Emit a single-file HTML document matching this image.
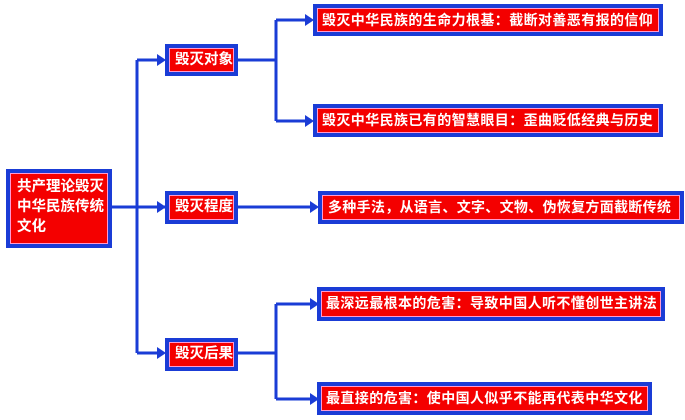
<!DOCTYPE html>
<html><head><meta charset="utf-8"><style>
html,body{margin:0;padding:0;background:#fff;width:685px;height:420px;overflow:hidden;position:relative}
.b{position:absolute;box-sizing:border-box;background:#1a3cd6;padding:4px}
.b div{box-sizing:border-box;width:100%;height:100%;background:#f40000;border:1px solid #ff9ad0;color:#fff;font-family:"Liberation Sans","Noto Sans CJK SC","WenQuanYi Zen Hei",sans-serif;font-weight:bold;font-size:14px;line-height:22px;white-space:nowrap;padding-left:4px;letter-spacing:0.4px;overflow:hidden}
svg{position:absolute;left:0;top:0}
</style></head><body>
<svg width="685" height="420">
<g stroke="#1a3cd6" stroke-width="3" fill="none">
<path d="M111 207H165"/>
<path d="M137 60V353"/>
<path d="M137 60H160M137 207H160M137 353H160"/>
<path d="M238 60H276M276 20V121M276 20H308M276 121H308"/>
<path d="M238 207H312"/>
<path d="M238 353H276M276 304V399M276 304H312M276 399H312"/>
</g>
<g fill="#1a3cd6">
<path d="M166 60l-9-6v12z"/><path d="M166 207l-9-6v12z"/><path d="M166 353l-9-6v12z"/>
<path d="M314 20l-9-6v12z"/><path d="M314 121l-9-6v12z"/>
<path d="M319 207l-9-6v12z"/>
<path d="M319 304l-9-6v12z"/><path d="M319 399l-9-6v12z"/>
</g>
</svg>
<div class="b" style="left:6px;top:169px;width:106px;height:79px"><div style="padding:3px 0 0 6px;line-height:20px;font-size:14.5px;letter-spacing:0">共产理论毁灭<br>中华民族传统<br>文化</div></div>
<div class="b" style="left:165px;top:44px;width:73px;height:32px"><div style="padding-left:5px;font-size:14.5px;letter-spacing:0">毁灭对象</div></div>
<div class="b" style="left:165px;top:191px;width:73px;height:33px"><div style="padding-left:5px;font-size:14.5px;letter-spacing:0">毁灭程度</div></div>
<div class="b" style="left:165px;top:338px;width:73px;height:33px"><div style="padding-left:5px;font-size:14.5px;letter-spacing:0">毁灭后果</div></div>
<div class="b" style="left:313px;top:4px;width:350px;height:32px"><div>毁灭中华民族的生命力根基：截断对善恶有报的信仰</div></div>
<div class="b" style="left:313px;top:104px;width:350px;height:33px"><div>毁灭中华民族已有的智慧眼目：歪曲贬低经典与历史</div></div>
<div class="b" style="left:318px;top:191px;width:366px;height:33px"><div style="padding-left:5px;letter-spacing:0.3px">多种手法，从语言、文字、文物、伪恢复方面截断传统</div></div>
<div class="b" style="left:317px;top:287px;width:348px;height:34px"><div>最深远最根本的危害：导致中国人听不懂创世主讲法</div></div>
<div class="b" style="left:317px;top:382px;width:335px;height:33px"><div>最直接的危害：使中国人似乎不能再代表中华文化</div></div>
</body></html>
